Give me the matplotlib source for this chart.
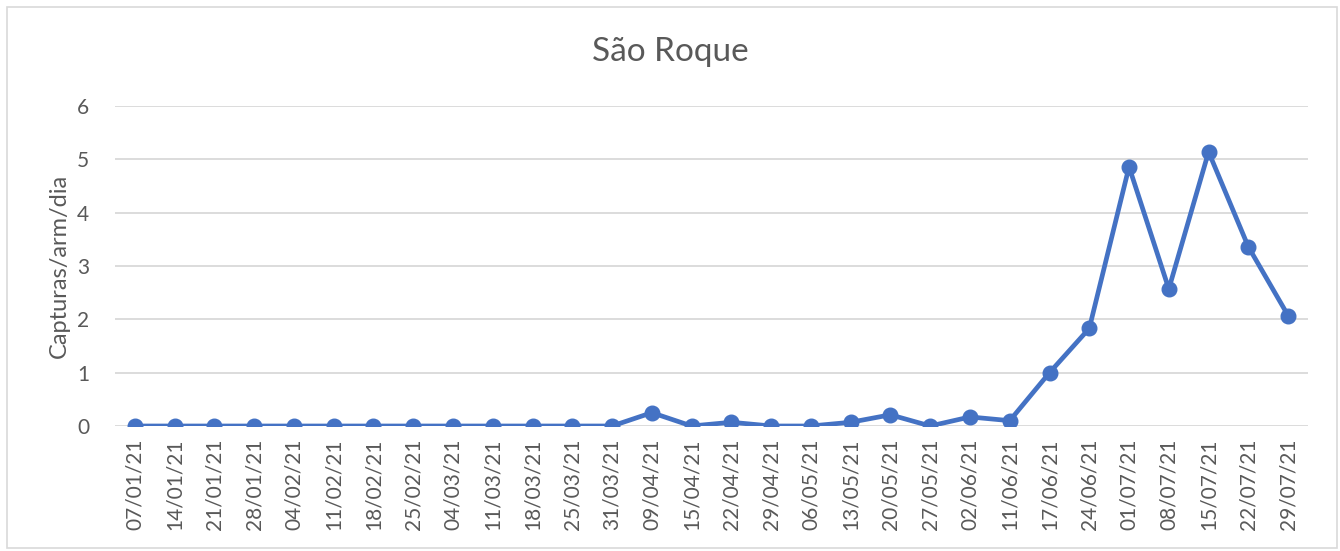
import matplotlib.pyplot as plt
from matplotlib.patches import Rectangle

# Dados
datas = ['07/01/21', '14/01/21', '21/01/21', '28/01/21', '04/02/21', '11/02/21',
         '18/02/21', '25/02/21', '04/03/21', '11/03/21', '18/03/21', '25/03/21',
         '31/03/21', '09/04/21', '15/04/21', '22/04/21', '29/04/21', '06/05/21',
         '13/05/21', '20/05/21', '27/05/21', '02/06/21', '11/06/21', '17/06/21',
         '24/06/21', '01/07/21', '08/07/21', '15/07/21', '22/07/21', '29/07/21']
capturas = [0, 0, 0, 0, 0, 0,
            0, 0, 0, 0, 0, 0,
            0, 0.25, 0, 0.07, 0, 0,
            0.07, 0.21, 0, 0.17, 0.10, 1.00,
            1.83, 4.86, 2.57, 5.14, 3.36, 2.07]
y_ticks = [0, 1, 2, 3, 4, 5, 6]

AZUL = '#4472C4'
CINZA_TEXTO = '#595959'
CINZA_GRADE = '#D9D9D9'
FONTE = ['Lato', 'DejaVu Sans']

plt.rcParams['font.family'] = FONTE

fig = plt.figure(figsize=(13.4, 5.51), dpi=100)
ax = fig.add_axes([115 / 1340, 1 - 426 / 551, (1308 - 115) / 1340, (426 - 106) / 551])

x = list(range(len(datas)))
ax.plot(x, capturas, color=AZUL, linewidth=3.4, marker='o', markersize=10.5,
        solid_capstyle='round', solid_joinstyle='round', zorder=3)

ax.set_xlim(-0.5, len(datas) - 0.5)
ax.set_ylim(0, 6)
ax.set_yticks(y_ticks)
ax.set_xticks(x)
ax.set_xticklabels(datas, rotation=90)
ax.grid(axis='y', color=CINZA_GRADE, linewidth=1.3)
ax.set_axisbelow(True)
for lado in ['top', 'right', 'left', 'bottom']:
    ax.spines[lado].set_visible(False)
ax.tick_params(axis='both', length=0, colors=CINZA_TEXTO, labelsize=15)
ax.tick_params(axis='y', pad=23)
ax.tick_params(axis='x', pad=9)
for rotulo in ax.get_yticklabels():
    rotulo.set_horizontalalignment('center')

ax.set_ylabel('Capturas/arm/dia', color=CINZA_TEXTO, fontsize=17, labelpad=5)
fig.text(0.5, 1 - 52 / 551, 'São Roque', ha='center', va='center',
         fontsize=24, color=CINZA_TEXTO)

# moldura externa
fig.patches.append(Rectangle((7 / 1340, 3 / 551), 1330 / 1340, 541 / 551,
                             transform=fig.transFigure, fill=False,
                             edgecolor=CINZA_GRADE, linewidth=1.2))

fig.savefig('out.png', dpi=100)
